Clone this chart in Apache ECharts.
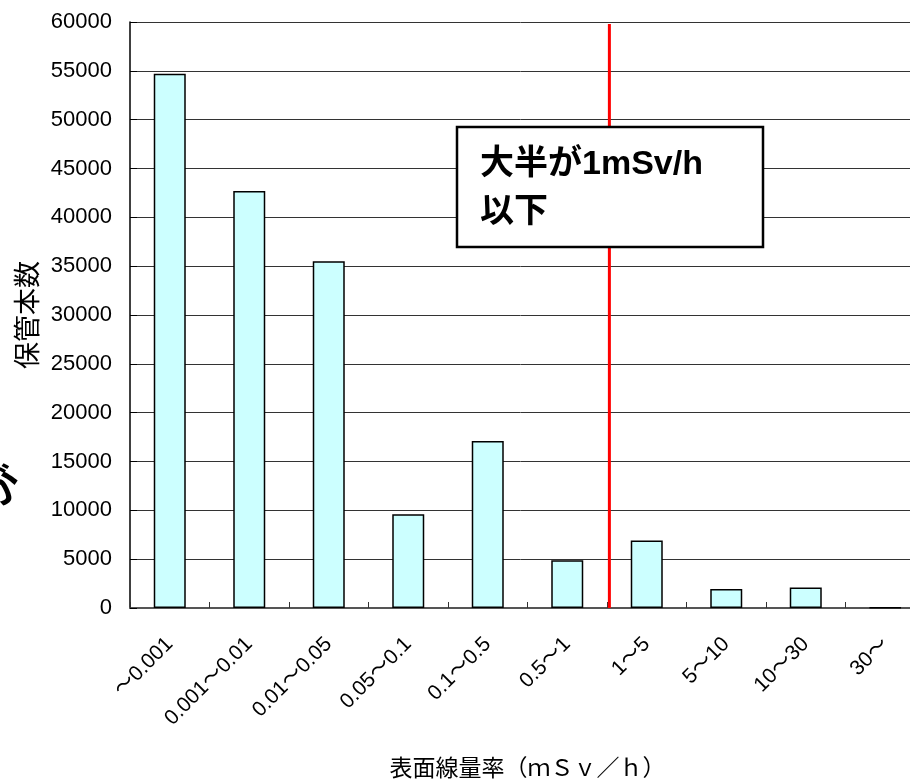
<!DOCTYPE html>
<html>
<head>
<meta charset="utf-8">
<script src="https://cdn.jsdelivr.net/npm/echarts@6/dist/echarts.min.js"></script>
<style>html,body{margin:0;padding:0;background:#fff;}#c{width:910px;height:780px;}</style>
</head>
<body>
<div id="c"></div>
<script>
const categories = ['～0.001', '0.001～0.01', '0.01～0.05', '0.05～0.1', '0.1～0.5', '0.5～1', '1～5', '5～10', '10～30', '30～'];
const counts = [54700, 42700, 35500, 9600, 17100, 4900, 6900, 1950, 2100, 40];
const yTicks = { min: 0, max: 60000, interval: 5000 };
const thresholdPosition = 6.03; // boundary between '0.5～1' and '1～5'
const thresholdLine = [[thresholdPosition, 0], [thresholdPosition, 59800]];
const xAxisTitle = '表面線量率（ｍＳｖ／ｈ）';
const yAxisTitle = '保管本数';
const noteLines = ['大半が1mSv/h', '以下'];

const FONT = '"Liberation Sans", Arial, "Noto Sans CJK JP", sans-serif';
const JFONT = '"Noto Sans CJK JP", "Liberation Sans", sans-serif';
const NFONT = '"Liberation Sans", "Noto Sans CJK JP", sans-serif';

const chart = echarts.init(document.getElementById('c'), null, { renderer: 'canvas' });
chart.setOption({
  animation: false,
  backgroundColor: '#ffffff',
  grid: { left: 130, top: 22, width: 795, height: 586, containLabel: false, outerBoundsMode: 'none' },
  xAxis: [
    {
      type: 'category',
      data: categories,
      boundaryGap: true,
      axisLine: { show: true, lineStyle: { color: '#555', width: 2 } },
      axisTick: { show: true, inside: true, length: 6, alignWithLabel: false, lineStyle: { color: '#333', width: 1 } },
      axisLabel: { rotate: 45, margin: 33, fontSize: 21, color: '#000', fontFamily: FONT, interval: 0 },
      name: xAxisTitle,
      nameLocation: 'middle',
      nameGap: 148,
      nameTextStyle: { fontSize: 23, color: '#000', fontFamily: JFONT },
      splitLine: { show: false }
    },
    {
      type: 'value', min: 0, max: 10, show: false
    }
  ],
  yAxis: {
    type: 'value',
    min: yTicks.min, max: yTicks.max, interval: yTicks.interval,
    axisLine: { show: true, lineStyle: { color: '#000', width: 1.5 } },
    axisTick: { show: true, inside: true, length: 7, lineStyle: { color: '#000' } },
    axisLabel: { fontSize: 22, color: '#000', fontFamily: FONT, margin: 18, formatter: function (v) { return String(v); } },
    splitLine: { show: true, lineStyle: { color: '#333', width: 1 } },
    name: yAxisTitle,
    nameLocation: 'middle',
    nameRotate: 90,
    nameGap: 87,
    nameTextStyle: { fontSize: 27, color: '#000', fontFamily: JFONT }
  },
  series: [
    {
      type: 'bar',
      data: counts,
      barWidth: 32,
      itemStyle: { color: '#CCFFFF', borderColor: '#000', borderWidth: 1.5 },
      z: 2
    },
    {
      type: 'line',
      xAxisIndex: 1,
      data: thresholdLine,
      symbol: 'none',
      lineStyle: { color: '#FF0000', width: 3 },
      z: 3
    }
  ],
  graphic: [
    {
      type: 'rect', z: 100,
      shape: { x: 457, y: 127, width: 306, height: 120 },
      style: { fill: '#ffffff', stroke: '#000', lineWidth: 2.5 }
    },
    {
      type: 'text', z: 101, left: 480, top: 148,
      style: { text: noteLines[0], fontSize: 34, fontWeight: 'bold', fill: '#000', fontFamily: NFONT }
    },
    {
      type: 'text', z: 101, left: 480, top: 192,
      style: { text: noteLines[1], fontSize: 34, fontWeight: 'bold', fill: '#000', fontFamily: JFONT }
    },
    {
      type: 'text', z: 101, x: 0, y: 488, rotation: 0.55,
      style: { text: 'が', fontSize: 40, fontWeight: 'bold', fill: '#000', fontFamily: JFONT, align: 'center', verticalAlign: 'middle' }
    }
  ]
});
</script>
</body>
</html>
